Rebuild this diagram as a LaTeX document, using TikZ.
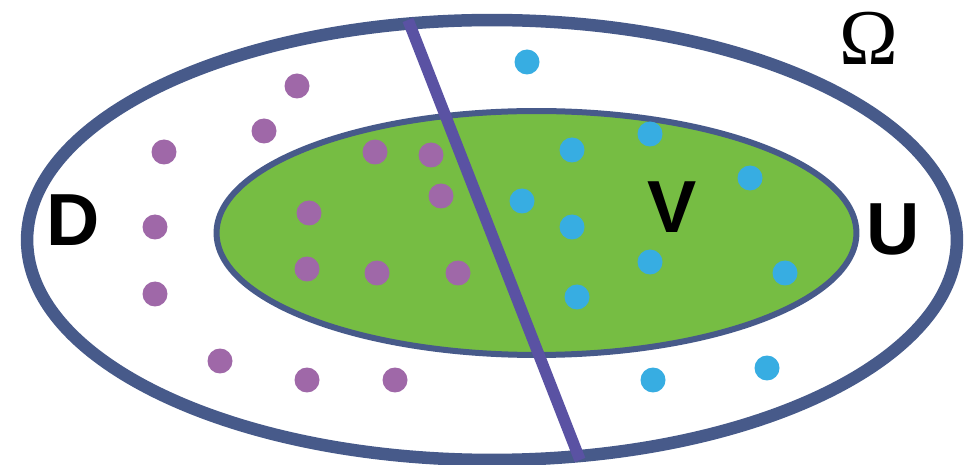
\documentclass[tikz,border=0pt]{standalone}
\usepackage{fontspec}
\setmainfont{Liberation Sans}
\newfontfamily\omegafont{Liberation Serif}
\usepackage{tikz}
\usetikzlibrary{positioning, shapes.geometric}
\definecolor{rim}{HTML}{475A8A}
\definecolor{cut}{HTML}{5A52A3}
\definecolor{meadow}{HTML}{76BD43}
\definecolor{plum}{HTML}{9F68A8}
\definecolor{sky}{HTML}{37ADE2}
\tikzset{
  outerset/.style={ellipse, draw=rim, fill=white, line width=0.25cm,
                   minimum width=18.6cm, minimum height=8.8cm, inner sep=0pt},
  innerset/.style={ellipse, draw=rim, fill=meadow, line width=0.12cm,
                   minimum width=12.8cm, minimum height=4.88cm, inner sep=0pt},
  cutline/.style={draw=cut, line width=0.23cm},
  dotp/.style={circle, fill=plum, minimum size=0.5cm, inner sep=0pt},
  dotb/.style={circle, fill=sky, minimum size=0.5cm, inner sep=0pt},
  setlbl/.style={font=\bfseries\fontsize{42}{42}\selectfont, inner sep=0pt},
  omlbl/.style={font=\omegafont\fontsize{45}{45}\selectfont, inner sep=0pt},
}
\begin{document}
\begin{tikzpicture}[x=0.02cm, y=-0.02cm]
        \useasboundingbox (0,0) rectangle (973,465);
        \node[outerset] (omega) at (492,240) {};
        \node[innerset] (vset) at (536.5,233) {};
        \coordinate (cutT) at (408,20);
        \coordinate (cutB) at (580,460);
        \draw[cutline] (cutT) -- (cutB);
        % points of D
        \node[dotp] (d1) at (297,86) {};
        \node[dotp] (d2) at (264,131) {};
        \node[dotp] (d3) at (164,152) {};
        \node[dotp] (d4) at (375,152) {};
        \node[dotp] (d5) at (431,155) {};
        \node[dotp] (d6) at (441,196) {};
        \node[dotp] (d7) at (309,213) {};
        \node[dotp] (d8) at (155,227) {};
        \node[dotp] (d9) at (307,269) {};
        \node[dotp] (d10) at (377,273) {};
        \node[dotp] (d11) at (458,273) {};
        \node[dotp] (d12) at (155,294) {};
        \node[dotp] (d13) at (220,361) {};
        \node[dotp] (d14) at (307,380) {};
        \node[dotp] (d15) at (395,380) {};
        % points of U
        \node[dotb] (u1) at (527,62) {};
        \node[dotb] (u2) at (572,150) {};
        \node[dotb] (u3) at (650,134) {};
        \node[dotb] (u4) at (750,178) {};
        \node[dotb] (u5) at (522,201) {};
        \node[dotb] (u6) at (572,227) {};
        \node[dotb] (u7) at (650,262) {};
        \node[dotb] (u8) at (785,273) {};
        \node[dotb] (u9) at (577,297) {};
        \node[dotb] (u10) at (653,380) {};
        \node[dotb] (u11) at (767,368) {};
        % labels
        \node[setlbl] (lblD) at (73,220) {D};
        \node[setlbl] (lblV) at (672,207) {V};
        \node[setlbl] (lblU) at (893,229) {U};
        \node[omlbl] (lblO) at (869,38) {Ω};
      \end{tikzpicture}
\end{document}
